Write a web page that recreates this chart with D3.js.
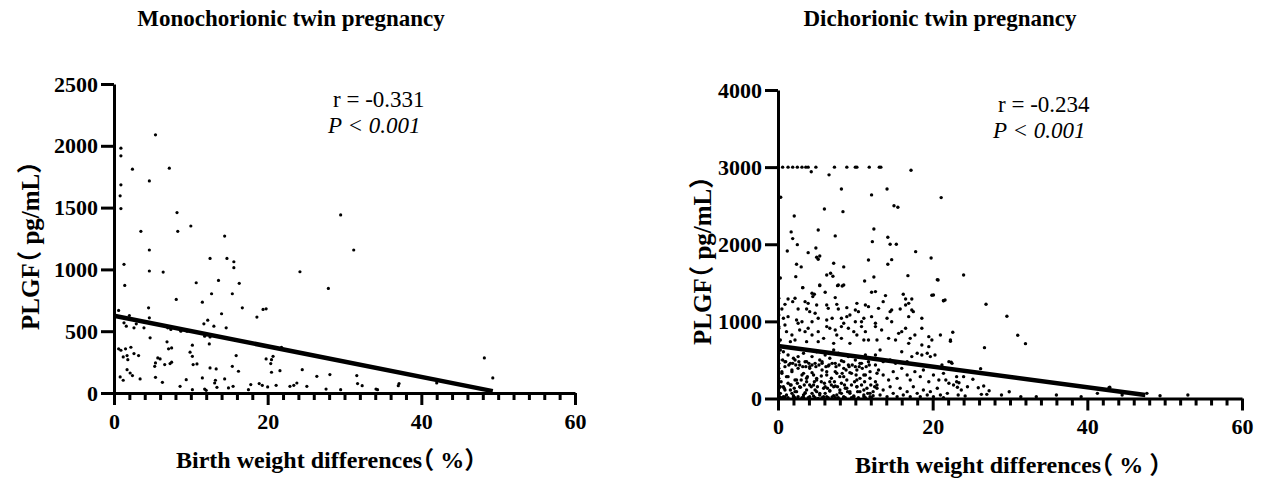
<!DOCTYPE html>
<html>
<head>
<meta charset="utf-8">
<script src="https://cdn.jsdelivr.net/npm/d3@7"></script>
<style>
  html, body { margin: 0; padding: 0; background: #fff; }
  svg { display: block; }
  text { font-family: 'Liberation Serif', 'Times New Roman', 'Noto Sans CJK SC', serif; fill: #000; }
  .label { font-feature-settings: "halt" 1; }
</style>
</head>
<body>
<div id="chart"><svg width="1261" height="479"></svg></div>
<script>
// ---- data ----
const TITLES = ['Monochorionic twin pregnancy', 'Dichorionic twin pregnancy'];
const X_LABELS = ['Birth weight differences（ %）', 'Birth weight differences（ % ）'];
const Y_LABEL = 'PLGF（ pg/mL）';
const R_TEXT = ['r = -0.331', 'r = -0.234'];
const P_TEXT = 'P < 0.001';

const X_TICKS = [0, 20, 40, 60];
const MONO_Y_TICKS = [0, 500, 1000, 1500, 2000, 2500];
const DI_Y_TICKS = [0, 1000, 2000, 3000, 4000];

// regression lines: [x, y] at both ends
const MONO_FIT = [[0, 625], [49.3, 15]];
const DI_FIT = [[0, 681], [47.5, 45]];

// monochorionic: [birth weight difference %, PLGF pg/mL]
const MONO_POINTS = [
  [5.4, 2089], [0.9, 1981], [0.9, 1919], [2.4, 1811], [7.2, 1819], [4.6, 1716], [0.9, 1684],
  [0.8, 1595], [0.9, 1492], [8.2, 1460], [29.5, 1441], [3.5, 1308], [8.3, 1308], [10, 1351],
  [14.4, 1270], [31.2, 1157], [4.6, 1157], [12.5, 1089], [14.7, 1089], [15.6, 1062], [15.6, 1014],
  [1.3, 1041], [4.6, 987], [6.4, 978], [24.2, 981], [13.6, 911], [10.7, 892], [16.3, 887],
  [1.4, 870], [27.9, 846], [12.7, 803], [15.4, 803], [8.1, 757], [11.5, 735], [16.7, 689],
  [19.4, 676], [19.8, 681], [0.6, 668], [18.6, 614], [14, 641], [12.2, 589], [11.7, 560],
  [13, 541], [14.6, 527], [4.5, 689], [4.6, 608], [2, 627], [1.6, 541], [2.6, 527], [2.9, 560],
  [3.9, 527], [1.3, 568], [7, 527], [7.4, 514], [8.7, 500], [9.5, 500], [4.7, 446], [6.9, 414],
  [7.1, 357], [7.5, 365], [10.2, 387], [12.4, 397], [12.5, 454], [11.8, 460], [21.8, 370],
  [0.6, 357], [0.9, 346], [1.5, 357], [2.2, 370], [2.6, 319], [3.2, 303], [1.2, 292], [1.7, 303],
  [1.8, 270], [5.7, 284], [6, 276], [5.4, 243], [5.3, 216], [6.6, 230], [7.3, 238], [7.5, 249],
  [9.9, 330], [10.2, 297], [10.3, 230], [10.8, 235], [15.9, 303], [15.4, 216], [16.2, 176],
  [19.8, 276], [20.7, 297], [20.5, 270], [20.4, 238], [20.5, 168], [21.6, 181], [24.5, 189],
  [28.1, 149], [31.6, 141], [48.2, 284], [49.3, 122], [0.8, 130], [1.2, 103], [1.7, 189],
  [2.1, 162], [2.4, 141], [3.4, 114], [5.4, 127], [6.3, 86], [8.6, 54], [9.4, 108], [11.5, 122],
  [12.5, 203], [13.3, 195], [13.2, 103], [13.1, 81], [14.4, 114], [15.5, 54], [10.2, 27],
  [11.8, 32], [12, 22], [13.4, 46], [14.9, 41], [17.8, 68], [18.9, 76], [19.3, 62], [20, 49],
  [21.1, 62], [22.9, 54], [23.4, 62], [23.8, 81], [25.1, 54], [26.4, 135], [27.6, 32], [29.5, 27],
  [31.7, 76], [32.3, 59], [34.1, 32], [34.3, 27], [37, 59], [37.1, 76], [42, 81], [17.5, 27]
];

// dichorionic: [birth weight difference %, PLGF pg/mL]
const DI_POINTS = [
  // values capped at 3000
  [0, 3000], [0.6, 3000], [1.3, 3000], [1.9, 3000], [2.5, 3000], [3.1, 3000], [3.6, 3000],
  [3.9, 3000], [4.9, 3000], [7.3, 3000], [8.9, 3000], [10, 3000], [10.2, 3000], [11.8, 3000],
  [13.1, 3000], [13.3, 3000], [4.3, 2940], [6.6, 2900], [17.2, 2960],
  // upper scatter
  [0.35, 2610], [8.2, 2717], [12.1, 2640], [14.1, 2717], [21.1, 2605], [15, 2500], [15.5, 2480],
  [6, 2458], [8.4, 2423], [2.1, 2367], [1.7, 2160], [5.2, 2185], [12.4, 2198], [7.4, 2108],
  [1.9, 2073], [2.5, 1995], [12.2, 2034], [14.2, 2091], [14.5, 2000], [15.3, 2000], [1.2, 1913],
  [3.9, 1891], [4.9, 1952], [5, 1831], [5.4, 1848], [5.2, 1805], [17.8, 1904], [19.8, 1822],
  [11.7, 1796], [14.7, 1800], [7.2, 1753], [2.4, 1741], [3, 1706], [8.5, 1706], [14.2, 1741],
  [0.3, 1563], [2.3, 1580], [6.3, 1602], [6.8, 1624], [7.1, 1585], [11.2, 1524], [12.4, 1576],
  [16.8, 1593], [20.6, 1541], [3.2, 1437], [5.4, 1463], [7.7, 1463], [8.3, 1459], [24, 1602],
  [20.7, 1537], [21.4, 1268], [19.9, 1338],
  // right tail
  [26.9, 1222], [29.6, 1066], [31, 820], [32, 711], [22.6, 859], [22.3, 742], [26.7, 659],
  [22.4, 470], [26.2, 387], [21.6, 1278], [21.7, 240], [23.1, 283], [24, 283], [25.2, 249],
  [23.1, 218], [23.4, 205], [23.2, 145], [23.7, 110], [24.5, 153], [25.9, 140], [26.6, 162],
  [23.3, 45], [24.2, 32], [26.3, 54], [27, 54], [27.3, 101], [28.9, 45], [29.9, 88], [31.4, 23],
  [33.4, 23], [36, 45], [39.2, 23], [41.3, 67], [42.8, 140], [44.5, 45], [42.9, 145], [47.7, 67],
  [49.4, 36], [53, 45],
  // dense block 1000-1500
  [3.2, 1437], [4.4, 1364], [4.5, 1321], [4.7, 1351], [5.4, 1472], [6.1, 1377], [7.4, 1308],
  [7.8, 1472], [8.5, 1472], [12.1, 1377], [12.6, 1386], [13.9, 1334], [16.2, 1351], [16.5, 1290],
  [17.3, 1290], [16.9, 1234], [20.1, 1342], [21.4, 1269], [1.3, 1290], [1.9, 1256], [2.2, 1299],
  [3.5, 1256], [3.9, 1234], [5, 1213], [6.3, 1213], [7.6, 1221],
  [0.5, 1161], [0.9, 1221], [2.6, 1161], [3.7, 1161], [4.1, 1126], [4.8, 1105], [6.5, 1169],
  [7.8, 1161], [8.9, 1178], [10.2, 1234], [10, 1148], [10.4, 1126], [11.3, 1213], [11.7, 1191],
  [13, 1169], [13.6, 1256], [14.5, 1126], [14.7, 1148], [15.8, 1161], [16.5, 1213], [17.3, 1148],
  [17.5, 1126], [18.6, 1040], [0.7, 1040], [1.3, 1061], [2.4, 1018], [2.6, 975], [3.1, 996],
  [4.4, 996], [5.2, 1040], [6.3, 1018], [7, 1040], [8.2, 1040], [8.5, 975], [8.9, 1061],
  [9.3, 1083], [10, 996], [10.8, 996], [11.1, 1040], [12.1, 1061], [12.6, 975], [14.1, 1040],
  [14.7, 996], [16.9, 1061],
  // 650-950
  [0.1, 932], [0.9, 953], [1.1, 867], [1.8, 823], [2.8, 888], [3.5, 867], [3.9, 910], [4.4, 823],
  [5.2, 867], [5.9, 780], [6.3, 932], [6.7, 910], [7.4, 888], [7.6, 823], [8.2, 932], [9.1, 910],
  [9.8, 867], [10.2, 823], [10.8, 932], [11.3, 867], [11.7, 759], [12.6, 932], [13.4, 888],
  [14.3, 780], [15.2, 759], [15.6, 845], [16, 867], [16.5, 910], [17.1, 780], [17.7, 823],
  [18.6, 910], [19.5, 802], [19.9, 759], [21, 823], [22.3, 759], [0.3, 759], [1.6, 737],
  [2.2, 759], [3.7, 737], [5.2, 737], [7.2, 715], [8.2, 780], [9.3, 715], [11.1, 759], [12.8, 759],
  [16.9, 715], [18.6, 694], [19.5, 672],
  // 430-650
  [0.3, 629], [0.7, 607], [1.3, 564], [2, 521], [2.6, 543], [3.3, 586], [3.7, 478], [4.4, 543],
  [5, 607], [5.4, 499], [6.1, 564], [6.7, 521], [7.2, 629], [7.8, 586], [8.5, 478], [9.1, 543],
  [10, 499], [10.6, 456], [11.3, 564], [11.9, 521], [12.6, 564], [13.2, 629], [13.6, 478],
  [14.5, 499], [15.2, 456], [16, 607], [16.7, 478], [17.3, 543], [18, 586], [18.6, 564],
  [19.3, 586], [19.7, 543], [20.3, 564], [21.2, 434], [22.1, 478], [22.5, 456],
  [0.1, 456], [0.6, 499], [1, 478], [1.4, 434], [1.9, 456], [2.3, 434], [2.7, 478], [3.2, 413],
  [3.6, 413], [4, 456], [4.4, 434], [4.9, 413], [5.3, 434], [5.7, 456], [6.2, 413], [6.6, 434],
  [7, 456], [7.5, 413], [7.9, 434], [8.3, 326], [8.8, 369], [9.2, 413], [9.6, 434], [10.1, 305],
  [10.5, 413], [10.9, 391], [11.4, 413], [11.8, 434],
  [0.9, 477], [1.6, 456], [2.2, 499], [2.8, 434], [3.5, 477], [4.1, 413], [4.8, 456], [5.7, 477],
  [6.5, 421], [7.4, 456], [8.2, 490], [9.1, 434], [10, 413], [10.8, 456], [11.7, 477], [12.6, 434],
  // 170-420
  [0.1, 391], [0.5, 348], [0.9, 413], [1.3, 283], [1.8, 369], [2.2, 240], [2.6, 391], [3.3, 326],
  [3.7, 218], [4.1, 391], [4.6, 305], [5, 261], [5.7, 369], [6.3, 305], [6.7, 218], [7.4, 348],
  [8, 283], [8.5, 391], [8.9, 240], [9.5, 326], [10.2, 369], [10.6, 261], [11.3, 305], [11.9, 348],
  [12.6, 218], [13, 369], [13.6, 305], [14.3, 240], [14.9, 348], [15.4, 261], [16, 391],
  [16.7, 305], [17.1, 240], [17.7, 348], [18.4, 283], [18.8, 369], [19.5, 218], [20.1, 305],
  [20.8, 240], [21.4, 326], [22.1, 197], [22.7, 175],
  [0.1, 261], [0.4, 218], [0.8, 132], [1.3, 197], [1.7, 175], [2.1, 132], [2.5, 197], [3, 240],
  [3.4, 175], [3.8, 283], [4.3, 153], [4.7, 218], [5.1, 153], [5.6, 218], [6, 197], [6.4, 132],
  [6.9, 175], [7.3, 218], [7.7, 153], [8.2, 197], [8.6, 175], [9, 89], [9.5, 175], [9.9, 218],
  [10.3, 89], [10.8, 175], [11.2, 218], [11.6, 67], [12, 175], [12.5, 153],
  [0.5, 327], [1.1, 283], [1.8, 348], [2.4, 240], [3.1, 305], [3.7, 262], [4.4, 335], [5, 240],
  [5.6, 292], [6.3, 348], [6.9, 262], [7.6, 327], [8.5, 283], [9.3, 335], [10.2, 240], [11.1, 305],
  [11.9, 262], [12.8, 327],
  // near zero
  [0.1, 132], [0.3, 67], [0.7, 153], [1.1, 45], [1.6, 110], [2, 24], [2.4, 89], [2.8, 153],
  [3.3, 45], [3.7, 110], [4.1, 24], [4.6, 175], [5, 89], [5.4, 45], [5.9, 132], [6.3, 24],
  [6.7, 97], [7.2, 153], [7.6, 45], [8, 110], [8.5, 24], [8.9, 132], [9.3, 67], [9.8, 24],
  [10.2, 153], [10.6, 89], [11.1, 45], [11.5, 132], [11.9, 24], [12.3, 89], [12.8, 175],
  [13.2, 45], [13.6, 110], [14.1, 24], [14.5, 153], [14.9, 67], [15.4, 24], [15.8, 132],
  [16.2, 45], [16.7, 89], [17.1, 24], [17.5, 153], [18, 67], [18.4, 24], [18.8, 110], [19.3, 45],
  [19.7, 89], [20.1, 24], [20.6, 132], [21, 45], [21.4, 11], [21.9, 67],
  [0.2, 24], [0.5, 11], [0.9, 19], [1.3, 11], [1.8, 67], [2.2, 11], [2.6, 24], [3.1, 11],
  [3.5, 67], [3.9, 11], [4.4, 67], [4.8, 11], [5.2, 2], [5.7, 11], [6.1, 67], [6.5, 11], [7, 19],
  [7.4, 11], [7.8, 11], [8.2, 67], [8.7, 11], [9.5, 11], [10.4, 11], [11.3, 11], [12.1, 11],
  [0.3, 153], [0.9, 110], [1.6, 175], [2.2, 89], [2.9, 145], [3.5, 76], [4.1, 175], [4.8, 110],
  [5.4, 67], [6.1, 153], [6.7, 101], [7.4, 162], [8, 76], [8.7, 132], [9.3, 89], [10.2, 153],
  [11.1, 110], [11.9, 67], [12.8, 132],
  [0.1, 33], [0.7, 24], [2, 37], [3.3, 15], [4.6, 33], [5.9, 24], [7.2, 37], [8.5, 15], [9.8, 33],
  [11.1, 24], [12.3, 37],
  // along the y axis
  [0.1, 1299], [0.1, 1083], [0.1, 910], [0.1, 737], [0.1, 586], [0.1, 499]
];

// ---- drawing ----
const SVG = d3.select('#chart svg');
const BLACK = '#000';
const SERIF = "'Liberation Serif', 'Times New Roman', serif";

function drawPanel(cfg) {
  const g = SVG.append('g');

  const X_SCALE = d3.scaleLinear().domain([0, 60]).range([cfg.left, cfg.right]);
  const Y_SCALE = d3.scaleLinear().domain([0, cfg.yMax]).range([cfg.bottom, cfg.top]);

  // points
  g.append('g')
    .selectAll('circle')
    .data(cfg.points)
    .join('circle')
    .attr('cx', d => X_SCALE(d[0]))
    .attr('cy', d => Y_SCALE(d[1]))
    .attr('r', cfg.dotR)
    .style('fill', BLACK);

  // fit line
  g.append('path')
    .datum(cfg.fit)
    .attr('d', d3.line(d => X_SCALE(d[0]), d => Y_SCALE(d[1])))
    .style('fill', 'none')
    .style('stroke', BLACK)
    .style('stroke-width', 4.5);

  // minor x ticks
  const MINOR = d3.range(0, 61, 2).filter(v => !X_TICKS.includes(v));
  g.append('g')
    .attr('transform', `translate(0,${cfg.bottom})`)
    .call(d3.axisBottom(X_SCALE).tickValues(MINOR).tickSize(7).tickSizeOuter(0).tickFormat(''))
    .call(a => a.select('.domain').remove());

  // x axis
  g.append('g')
    .attr('transform', `translate(0,${cfg.bottom})`)
    .call(d3.axisBottom(X_SCALE).tickValues(X_TICKS).tickSize(12).tickSizeOuter(0)
      .tickPadding(8).tickFormat(d3.format('d')));

  // y axis
  g.append('g')
    .attr('transform', `translate(${cfg.left},0)`)
    .call(d3.axisLeft(Y_SCALE).tickValues(cfg.yTicks).tickSize(13).tickSizeOuter(0)
      .tickPadding(3).tickFormat(d3.format('d')));

  g.selectAll('.domain, .tick line')
    .style('stroke', BLACK)
    .style('stroke-width', 3);
  g.selectAll('.tick text')
    .attr('font-family', null)
    .style('font-family', SERIF)
    .style('font-size', '22px')
    .style('font-weight', 'bold')
    .style('fill', BLACK);

  // title
  g.append('text')
    .attr('x', cfg.titleX)
    .attr('y', 26)
    .attr('text-anchor', 'middle')
    .style('font-size', '23px')
    .style('font-weight', 'bold')
    .text(cfg.title);

  // x label
  g.append('text')
    .attr('class', 'label')
    .attr('x', cfg.xLabelX)
    .attr('y', cfg.xLabelY)
    .style('font-size', '24px')
    .style('font-weight', 'bold')
    .text(cfg.xLabel);

  // y label
  g.append('text')
    .attr('class', 'label')
    .attr('transform', `translate(${cfg.yLabelX},${cfg.yLabelY}) rotate(-90)`)
    .style('font-size', '25px')
    .style('font-weight', 'bold')
    .text(Y_LABEL);

  // stats
  g.append('text')
    .attr('x', cfg.statX)
    .attr('y', cfg.statY)
    .style('font-size', '23px')
    .text(cfg.r);
  g.append('text')
    .attr('x', cfg.statX - 5)
    .attr('y', cfg.statY + 26)
    .style('font-size', '23px')
    .style('font-style', 'italic')
    .text(P_TEXT);
}

drawPanel({
  left: 114, right: 575, top: 84, bottom: 393,
  yMax: 2500, yTicks: MONO_Y_TICKS,
  points: MONO_POINTS, fit: MONO_FIT, dotR: 1.6,
  title: TITLES[0], titleX: 291,
  xLabel: X_LABELS[0], xLabelX: 176, xLabelY: 468,
  yLabelX: 39, yLabelY: 330,
  r: R_TEXT[0], statX: 333, statY: 107
});

drawPanel({
  left: 778, right: 1242, top: 90, bottom: 398.5,
  yMax: 4000, yTicks: DI_Y_TICKS,
  points: DI_POINTS, fit: DI_FIT, dotR: 1.7,
  title: TITLES[1], titleX: 940,
  xLabel: X_LABELS[1], xLabelX: 855, xLabelY: 473,
  yLabelX: 711, yLabelY: 345,
  r: R_TEXT[1], statX: 998, statY: 112
});
</script>
</body>
</html>
